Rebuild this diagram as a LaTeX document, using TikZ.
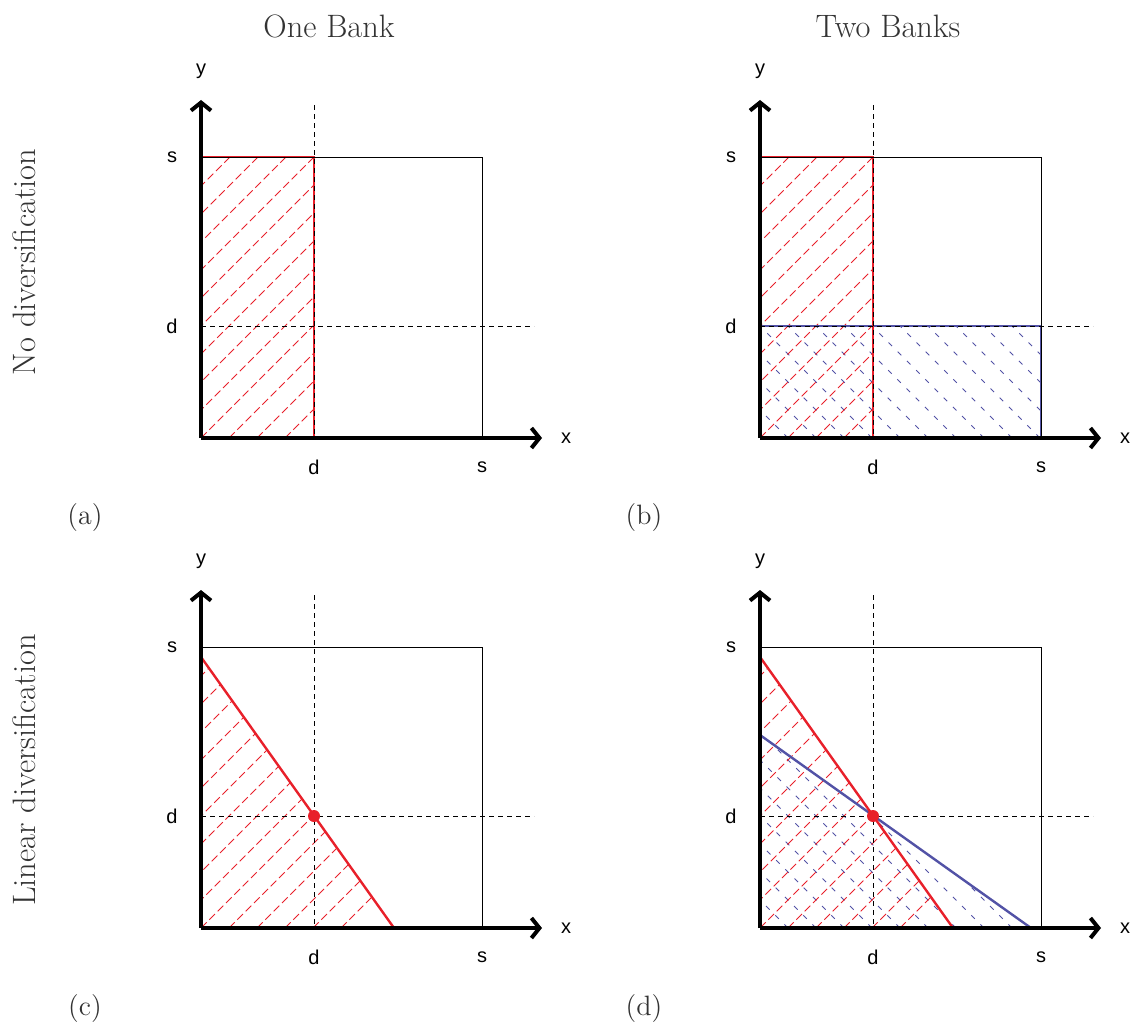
\documentclass[tikz,border=0pt]{standalone}
\usepackage{fontspec}
\newfontfamily\axisfont{Liberation Sans}
\usetikzlibrary{arrows.meta}
\definecolor{hatchred}{HTML}{E8202A}
\definecolor{hatchblue}{HTML}{5252A6}
\definecolor{titlegray}{HTML}{333333}

\begin{document}
\begin{tikzpicture}[
  x=0.5pt,y=-0.5pt,
  axis/.style={line width=2pt,-{Straight Barb[length=4pt,width=10pt]}},
  frame/.style={draw=black,line width=0.5pt},
  guide/.style={draw=black,line width=0.5pt,dash pattern=on 2.5pt off 2pt},
  tick/.style={font=\axisfont\fontsize{10}{12}\selectfont},
  title/.style={font=\fontsize{16.2}{19}\selectfont,text=titlegray},
  tag/.style={font=\fontsize{14}{17}\selectfont,text=titlegray},
  redhatch/.style={draw=hatchred,line width=0.5pt,dash pattern=on 4pt off 1.9pt},
  bluehatch/.style={draw=hatchblue,line width=0.5pt,dash pattern=on 2.5pt off 4pt},
  redline/.style={draw=hatchred,line width=1.2pt},
  blueline/.style={draw=hatchblue,line width=1.2pt}
]
\useasboundingbox (0,0) rectangle (1133,1022);

% column and row headings
\node[title] (one) at (329,26) {One Bank};
\node[title] (two) at (888,26) {Two Banks};
\node[title,rotate=90] (nodiv) at (24,262) {No diversification};
\node[title,rotate=90] (lindiv) at (24,770) {Linear diversification};

% (a) one bank, no diversification
\begin{scope}[shift={(201,438)},y=0.5pt]
  \begin{scope}
    \clip (0,0) rectangle (113,281);
    \foreach \t in {-280,-252,...,140} \draw[redhatch] (\t,0) -- ++(300,300);
  \end{scope}
  \draw[redline] (0,281) -- (113,281) -- (113,0);
\end{scope}

% (b) two banks, no diversification
\begin{scope}[shift={(760,438)},y=0.5pt]
  \begin{scope}
    \clip (0,0) rectangle (281,112);
    \foreach \t in {0,28,...,420} \draw[bluehatch] (\t,0) -- ++(-300,300);
  \end{scope}
  \begin{scope}
    \clip (0,0) rectangle (113,281);
    \foreach \t in {-280,-252,...,140} \draw[redhatch] (\t,0) -- ++(300,300);
  \end{scope}
  \draw[blueline] (0,112) -- (281,112) -- (281,0);
  \draw[redline] (0,281) -- (113,281) -- (113,0);
\end{scope}

% (c) one bank, linear diversification
\begin{scope}[shift={(201,928)},y=0.5pt]
  \begin{scope}
    \clip (0,0) -- (0,271) -- (193,0) -- cycle;
    \foreach \t in {-280,-252,...,140} \draw[redhatch] (\t,0) -- ++(300,300);
  \end{scope}
  \draw[redline] (0,271) -- (193,0);
\end{scope}

% (d) two banks, linear diversification
\begin{scope}[shift={(760,928)},y=0.5pt]
  \begin{scope}
    \clip (0,0) -- (0,193) -- (271,0) -- cycle;
    \foreach \t in {0,28,...,420} \draw[bluehatch] (\t,0) -- ++(-300,300);
  \end{scope}
  \begin{scope}
    \clip (0,0) -- (0,271) -- (193,0) -- cycle;
    \foreach \t in {-280,-252,...,140} \draw[redhatch] (\t,0) -- ++(300,300);
  \end{scope}
  \draw[blueline] (0,193) -- (271,0);
  \draw[redline] (0,271) -- (193,0);
\end{scope}

% frame, guides, axes and labels of every panel
\foreach \px/\py/\k in {201/438/a,760/438/b,201/928/c,760/928/d}{
  \begin{scope}[shift={(\px,\py)},y=0.5pt]
    \draw[frame] (0,0) rectangle (281,281);
    \draw[guide] (113,333) -- (113,0);
    \draw[guide] (0,112) -- (333,112);
    \draw[axis] (0,0) -- (0,338);
    \draw[axis] (0,0) -- (341,0);
    \node[tick] (ylab-\k) at (0,367) {y};
    \node[tick] (xlab-\k) at (365,0) {x};
    \node[tick] (sy-\k) at (-29,281) {s};
    \node[tick] (dy-\k) at (-29,112) {d};
    \node[tick] (dx-\k) at (113,-29) {d};
    \node[tick] (sx-\k) at (281,-29) {s};
    \node[tag] (tag-\k) at (-116,-80) {(\k)};
  \end{scope}
}

% tangency points
\fill[hatchred] (314,816) circle (3pt);
\fill[hatchred] (873,816) circle (3pt);
\end{tikzpicture}
\end{document}
